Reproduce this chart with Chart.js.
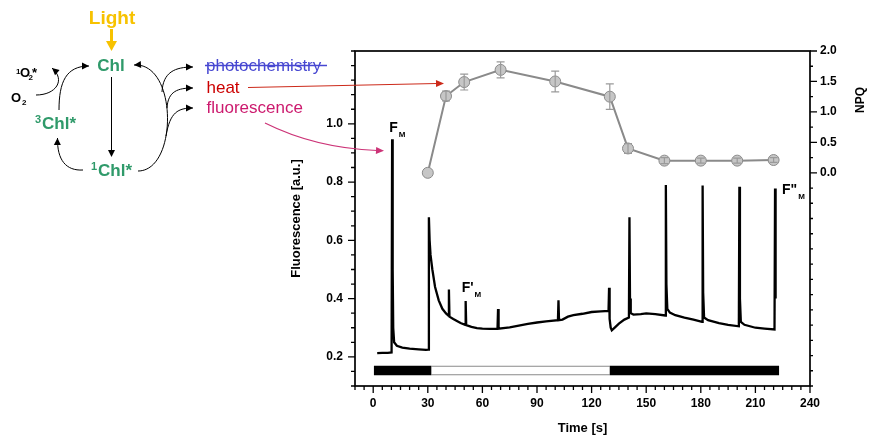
<!DOCTYPE html>
<html>
<head>
<meta charset="utf-8">
<script src="https://cdn.jsdelivr.net/npm/chart.js@4/dist/chart.umd.min.js"></script>
<style>
  html, body { margin: 0; padding: 0; background: #fff; }
  #chart { display: block; }
</style>
</head>
<body>
<canvas id="chart" width="870" height="437"></canvas>
<script>
// ── Fluorescence trace (PAM measurement) ──
const fluorTime = [
  2.2, 5, 8, 10.1, 10.4, 10.7, 11.0, 11.5, 13, 16, 20, 25, 29, 30.3,
  30.6, 31, 31.5, 32.5, 34, 36, 38, 40, 41.3, 41.6, 41.9, 44, 46, 48, 50.5,
  50.8, 51.1, 54, 57, 60, 64, 68.3, 68.6, 68.9, 75, 80, 85, 90, 95, 101.5,
  101.8, 102.1, 104, 107, 110, 115, 120, 125, 129.3, 129.6, 129.9, 130.5, 131.1, 133, 135,
  138, 140.5, 140.8, 141.1, 141.5, 143, 147, 150, 155, 160.5, 160.8, 161.1, 161.6, 163, 166,
  171, 176, 180.7, 181, 181.3, 181.8, 184, 190, 195, 200.9, 201.2, 201.5, 202, 204, 210,
  215, 220.5, 220.8, 221.1
];
const fluorValue = [
  0.213, 0.214, 0.214, 0.215, 0.947, 0.5, 0.3, 0.25, 0.238, 0.232, 0.228, 0.226, 0.224, 0.225,
  0.679, 0.6, 0.55, 0.5, 0.44, 0.394, 0.365, 0.349, 0.342, 0.431, 0.338, 0.33, 0.323, 0.316, 0.31,
  0.392, 0.309, 0.303, 0.299, 0.297, 0.296, 0.297, 0.364, 0.297, 0.301, 0.307, 0.313, 0.318, 0.322, 0.326,
  0.394, 0.326, 0.328, 0.338, 0.343, 0.348, 0.354, 0.356, 0.358, 0.437, 0.33, 0.3, 0.291, 0.302, 0.314,
  0.328, 0.335, 0.679, 0.4, 0.35, 0.345, 0.347, 0.349, 0.347, 0.342, 0.79, 0.45, 0.365, 0.352, 0.343,
  0.335, 0.328, 0.32, 0.788, 0.42, 0.335, 0.326, 0.316, 0.31, 0.305, 0.784, 0.4, 0.32, 0.31, 0.3,
  0.297, 0.294, 0.778, 0.4
];

// ── NPQ with standard deviation ──
const npqTime  = [30, 40, 50, 70, 100, 130, 140, 160, 180, 200, 220];
const npqValue = [0.0, 1.26, 1.49, 1.69, 1.5, 1.25, 0.4, 0.2, 0.2, 0.2, 0.21];
const npqError = [0, 0.08, 0.13, 0.13, 0.17, 0.21, 0.08, 0.05, 0.04, 0.04, 0.04];

// ── dark / actinic light periods ──
const phaseStart = [0.4, 31.9, 130];
const phaseEnd   = [31.9, 130, 223];
const phaseDark  = [true, false, true];

// ── axis ticks ──
const timeTicks  = [0, 30, 60, 90, 120, 150, 180, 210, 240];
const fluorTicks = [0.2, 0.4, 0.6, 0.8, 1.0];
const npqTicks   = [0, 0.5, 1, 1.5, 2];

const FONT = '"Liberation Sans", Arial, sans-serif';
const tickFont = { family: FONT, size: 12, weight: 'bold' };
const titleFont = { family: FONT, size: 13, weight: 'bold' };
const BAR_LEVEL = 0.153;

const phaseSets = [];
phaseStart.forEach((s, i) => {
  const pts = [{ x: s, y: BAR_LEVEL }, { x: phaseEnd[i], y: BAR_LEVEL }];
  if (phaseDark[i]) {
    phaseSets.push({ data: pts, borderColor: '#000', borderWidth: 9.5, pointRadius: 0, order: 1 });
  } else {
    phaseSets.push({ data: pts, borderColor: '#8a8a8a', borderWidth: 9.5, pointRadius: 0, order: 3 });
    phaseSets.push({ data: pts, borderColor: '#fff', borderWidth: 7.6, pointRadius: 0, order: 2 });
  }
});

// error bars on top of the NPQ markers
const npqErrorBars = {
  id: 'npqErrorBars',
  afterDatasetsDraw(chart) {
    const { ctx, scales } = chart;
    ctx.save();
    ctx.strokeStyle = '#9a9a9a';
    ctx.lineWidth = 1.2;
    npqTime.forEach((t, i) => {
      if (!npqError[i]) return;
      const x = scales.x.getPixelForValue(t);
      const y1 = scales.y2.getPixelForValue(npqValue[i] + npqError[i]);
      const y2 = scales.y2.getPixelForValue(npqValue[i] - npqError[i]);
      ctx.beginPath();
      ctx.moveTo(x, y1); ctx.lineTo(x, y2);
      ctx.moveTo(x - 4, y1); ctx.lineTo(x + 4, y1);
      ctx.moveTo(x - 4, y2); ctx.lineTo(x + 4, y2);
      ctx.stroke();
    });
    ctx.restore();
  }
};

// box, tick marks, NPQ title, F_M labels
const axesFrame = {
  id: 'axesFrame',
  afterDraw(chart) {
    const { ctx, chartArea: a, scales } = chart;
    ctx.save();
    ctx.strokeStyle = '#000';
    ctx.lineWidth = 1.7;
    ctx.strokeRect(a.left, a.top, a.right - a.left, a.bottom - a.top);

    ctx.lineWidth = 1.3;
    ctx.beginPath();
    for (let k = -2; k <= 48; k++) {
      const x = scales.x.getPixelForValue(k * 5);
      const len = (k >= 0 && k % 6 === 0) ? 7 : 4;
      ctx.moveTo(x, a.bottom); ctx.lineTo(x, a.bottom + len);
    }
    for (let k = 2; k <= 25; k++) {
      const y = scales.y.getPixelForValue(k * 0.05);
      const len = (k % 4 === 0 && k <= 20) ? 7 : 4;
      ctx.moveTo(a.left, y); ctx.lineTo(a.left - len, y);
    }
    for (let k = -14; k <= 8; k++) {
      const y = scales.y2.getPixelForValue(k * 0.25);
      const len = (k >= 0 && k % 2 === 0) ? 7 : 3;
      ctx.moveTo(a.right, y); ctx.lineTo(a.right + len, y);
    }
    ctx.stroke();

    // right axis title, reading upward
    ctx.fillStyle = '#000';
    ctx.font = 'bold 12px ' + FONT;
    ctx.textAlign = 'center';
    ctx.textBaseline = 'middle';
    ctx.translate(861, 100);
    ctx.rotate(-Math.PI / 2);
    ctx.fillText('NPQ', 0, 0);
    ctx.restore();

    const label = (main, t, v, dx, dy) => {
      const x = scales.x.getPixelForValue(t) + dx;
      const y = scales.y.getPixelForValue(v) + dy;
      ctx.save();
      ctx.fillStyle = '#000';
      ctx.textAlign = 'left';
      ctx.textBaseline = 'alphabetic';
      ctx.font = 'bold 14px ' + FONT;
      ctx.fillText(main, x, y);
      const w = ctx.measureText(main).width;
      ctx.font = 'bold 8px ' + FONT;
      ctx.fillText('M', x + w + 1, y + 5);
      ctx.restore();
    };
    label('F', 10.4, 0.947, -3, -7.5);
    label("F'", 50.8, 0.392, -4, -9);
    label('F"', 220.8, 0.778, 7, 6);
  }
};

// quenching scheme drawn beside the plot
const scheme = {
  id: 'scheme',
  afterDraw(chart) {
    const ctx = chart.ctx;
    ctx.save();

    const head = (x, y, fromX, fromY, color, len, half) => {
      const ang = Math.atan2(y - fromY, x - fromX);
      ctx.fillStyle = color;
      ctx.beginPath();
      ctx.moveTo(x, y);
      ctx.lineTo(x - len * Math.cos(ang) + half * Math.sin(ang), y - len * Math.sin(ang) - half * Math.cos(ang));
      ctx.lineTo(x - len * Math.cos(ang) - half * Math.sin(ang), y - len * Math.sin(ang) + half * Math.cos(ang));
      ctx.closePath();
      ctx.fill();
    };
    const curve = (p, color, w) => {
      // p: start, c1, c2, end
      ctx.strokeStyle = color;
      ctx.lineWidth = w || 1;
      ctx.beginPath();
      ctx.moveTo(p[0], p[1]);
      ctx.bezierCurveTo(p[2], p[3], p[4], p[5], p[6], p[7]);
      ctx.stroke();
      head(p[6], p[7], p[4], p[5], color, 7, 3.5);
    };

    // Light
    ctx.fillStyle = '#f7c200';
    ctx.font = 'bold 19px ' + FONT;
    ctx.textAlign = 'center';
    ctx.textBaseline = 'alphabetic';
    ctx.fillText('Light', 112, 24);
    ctx.strokeStyle = '#f7c200';
    ctx.lineWidth = 3;
    ctx.beginPath(); ctx.moveTo(111.5, 29); ctx.lineTo(111.5, 42); ctx.stroke();
    head(111.5, 51, 111.5, 40, '#f7c200', 10, 5.5);

    // chlorophyll states
    const green = '#2f9a6a';
    ctx.fillStyle = green;
    ctx.font = 'bold 17px ' + FONT;
    ctx.fillText('Chl', 111, 71);
    ctx.textAlign = 'left';
    ctx.fillText('Chl*', 98, 176);
    ctx.fillText('Chl*', 42, 129);
    ctx.font = 'bold 11px ' + FONT;
    ctx.fillText('1', 91, 170);
    ctx.fillText('3', 35, 123);

    // oxygen
    ctx.fillStyle = '#000';
    ctx.font = 'bold 8px ' + FONT;
    ctx.fillText('1', 16, 74);
    ctx.font = 'bold 13px ' + FONT;
    ctx.fillText('O', 20, 77);
    ctx.fillText('*', 32, 77);
    ctx.font = 'bold 8px ' + FONT;
    ctx.fillText('2', 28.5, 80);
    ctx.font = 'bold 13px ' + FONT;
    ctx.fillText('O', 11, 102);
    ctx.font = 'bold 8px ' + FONT;
    ctx.fillText('2', 22, 105);

    // arrows between states
    ctx.strokeStyle = '#000';
    ctx.lineWidth = 1;
    ctx.beginPath(); ctx.moveTo(111.5, 77); ctx.lineTo(111.5, 150); ctx.stroke();
    head(111.5, 157, 111.5, 150, '#000', 7, 3.5);
    curve([83, 170, 66, 171, 57, 160, 57.5, 138], '#000');
    curve([59, 110, 59, 82, 66, 66, 89, 66], '#000');
    curve([36, 95, 56, 95, 66, 80, 52, 68], '#000');
    curve([138, 171, 178, 171, 178, 62, 134, 65], '#000');
    curve([162, 92, 163, 72, 175, 67, 193, 67], '#000');
    curve([167, 108, 168, 91, 178, 88, 193, 88], '#000');
    curve([166, 136, 170, 112, 178, 108, 193, 108], '#000');

    // deactivation pathways
    ctx.font = '17px ' + FONT;
    ctx.fillStyle = '#4747d1';
    ctx.fillText('photochemistry', 206, 71);
    ctx.strokeStyle = '#4747d1';
    ctx.lineWidth = 1.3;
    ctx.beginPath(); ctx.moveTo(205, 65.5); ctx.lineTo(327, 65.5); ctx.stroke();
    ctx.fillStyle = '#cc0000';
    ctx.fillText('heat', 206.5, 93);
    ctx.fillStyle = '#cc1a6e';
    ctx.fillText('fluorescence', 206.5, 113);

    // pointers into the plot
    ctx.strokeStyle = '#cc2a1a';
    ctx.lineWidth = 1.2;
    ctx.beginPath(); ctx.moveTo(248, 87.5); ctx.lineTo(437, 83.5); ctx.stroke();
    head(444, 83.4, 437, 83.5, '#cc2a1a', 8, 3.5);
    ctx.strokeStyle = '#cc3377';
    ctx.beginPath(); ctx.moveTo(265, 123); ctx.quadraticCurveTo(315, 148, 377, 150.5); ctx.stroke();
    head(384, 150.8, 377, 150.5, '#cc3377', 8, 3.5);

    ctx.restore();
  }
};

new Chart(document.getElementById('chart'), {
  type: 'line',
  data: {
    datasets: [
      {
        data: fluorTime.map((t, i) => ({ x: t, y: fluorValue[i] })),
        borderColor: '#000', borderWidth: 2.3, pointRadius: 0, tension: 0, order: 0,
      },
      {
        data: npqTime.map((t, i) => ({ x: t, y: npqValue[i] })),
        yAxisID: 'y2',
        borderColor: '#8a8a8a', borderWidth: 2,
        pointRadius: 5.5, pointBackgroundColor: '#c6c6c6',
        pointBorderColor: '#8a8a8a', pointBorderWidth: 1, order: -1,
      },
      ...phaseSets,
    ]
  },
  options: {
    responsive: false,
    animation: false,
    events: [],
    layout: { padding: { left: 280, top: 51, right: 0, bottom: 0 } },
    plugins: { legend: { display: false }, tooltip: { enabled: false } },
    scales: {
      x: {
        type: 'linear', min: -10, max: 240,
        grid: { display: false, drawTicks: false }, border: { display: false },
        afterBuildTicks: s => { s.ticks = timeTicks.map(v => ({ value: v })); },
        afterFit: s => { s.height = 51; },
        ticks: { padding: 10, font: tickFont, color: '#000', maxRotation: 0, autoSkip: false },
        title: { display: true, text: 'Time [s]', font: titleFont, color: '#000', padding: { top: 0, bottom: 1 } },
      },
      y: {
        type: 'linear', position: 'left', min: 0.1, max: 1.25,
        grid: { display: false, drawTicks: false }, border: { display: false },
        afterBuildTicks: s => { s.ticks = fluorTicks.map(v => ({ value: v })); },
        afterFit: s => { s.width = 75; },
        ticks: { padding: 12, font: tickFont, color: '#000', callback: v => v.toFixed(1) },
        title: { display: true, text: 'Fluorescence [a.u.]', font: titleFont, color: '#000', padding: { top: 9, bottom: 0 } },
      },
      y2: {
        type: 'linear', position: 'right', min: -3.5, max: 2,
        grid: { display: false, drawTicks: false }, border: { display: false },
        afterBuildTicks: s => { s.ticks = npqTicks.map(v => ({ value: v })); },
        afterFit: s => { s.width = 60; },
        ticks: { padding: 10, font: tickFont, color: '#000', callback: v => v.toFixed(1) },
      },
    }
  },
  plugins: [npqErrorBars, axesFrame, scheme]
});
</script>
</body>
</html>
